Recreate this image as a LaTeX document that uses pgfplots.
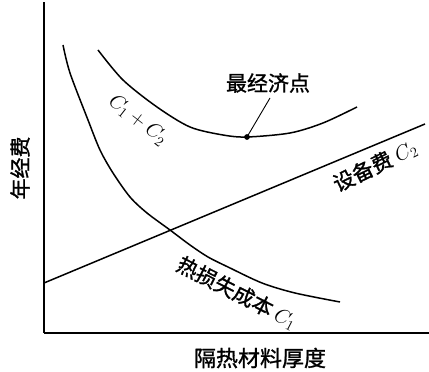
\documentclass[border=0pt]{standalone}
\usepackage{pgfplots}
\pgfplotsset{compat=1.18}
\usepackage{fontspec}
\setmainfont{Noto Sans CJK SC}[BoldFont={Noto Sans CJK SC}, BoldFeatures={FakeBold=1.2}]
\begin{document}
\begin{tikzpicture}
\useasboundingbox (-44pt,-39pt) rectangle (385pt,333pt);
\begin{axis}[
  scale only axis, width=385pt, height=331pt,
  xmin=0, xmax=385, ymin=0, ymax=331,
  axis x line*=bottom, axis y line*=left,
  axis line style={line width=1.3pt},
  xtick=\empty, ytick=\empty,
  clip=false,
]
\addplot[smooth, line width=1.5pt, tension=0.5] coordinates {
(19,288) (26,260) (44,213) (56,183) (69,160) (86,136) (103,120) (126,103) (146,88) (164,76) (184,66) (218,50) (251,40) (296,31)};
\addplot[line width=1.5pt] coordinates {(0,50) (381,209)};
\addplot[smooth, line width=1.5pt, tension=0.5] coordinates {
(54,283) (79,253) (113,226) (146,206) (179,198) (203,196) (246,200) (279,210) (313,226)};
\addplot[only marks, mark=*, mark size=2.6pt] coordinates {(203,196)};
\draw[line width=0.9pt] (axis cs:203,196) -- (axis cs:226,235);
\node[font=\fontsize{21}{21}\selectfont\bfseries] at (axis cs:224,250) {最经济点};
\node[rotate=-38, font=\fontsize{21}{21}\selectfont] at (axis cs:94,213) {$C_1+C_2$};
\node[rotate=26, font=\fontsize{21}{21}\selectfont\bfseries] at (axis cs:331,167) {设备费 $C_2$};
\node[rotate=-27, font=\fontsize{21}{21}\selectfont\bfseries] at (axis cs:193,40) {热损失成本 $C_1$};
\node[rotate=90, font=\fontsize{21}{21}\selectfont\bfseries] at (axis cs:-24,165) {年经费};
\node[font=\fontsize{22}{22}\selectfont\bfseries] at (axis cs:216,-25) {隔热材料厚度};
\end{axis}
\end{tikzpicture}
\end{document}
